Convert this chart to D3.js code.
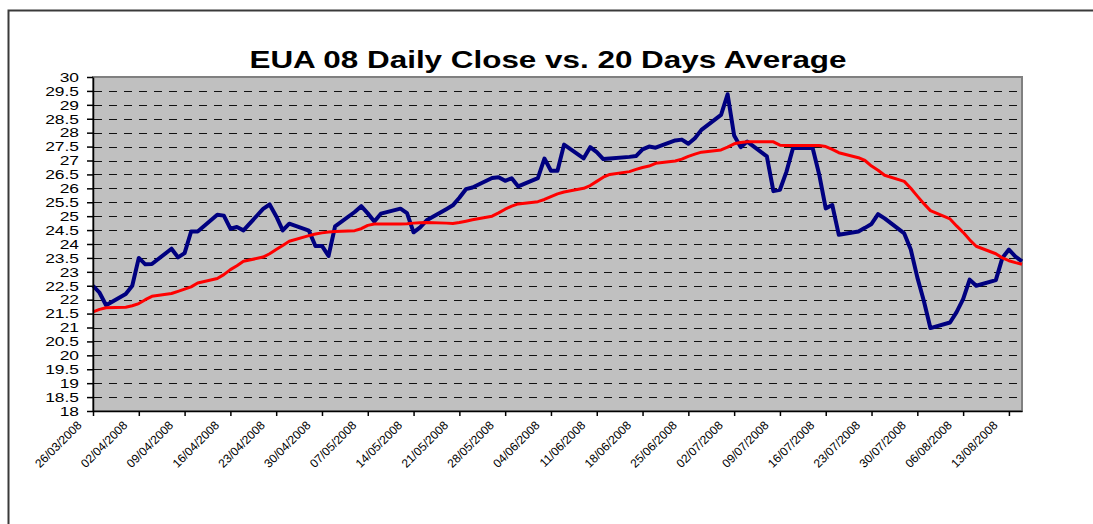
<!DOCTYPE html>
<html>
<head>
<meta charset="utf-8">
<title>EUA 08 Daily Close vs. 20 Days Average</title>
<script src="https://cdn.jsdelivr.net/npm/d3@7"></script>
<style>
  body { margin: 0; background: #fff; overflow: hidden; }
  svg { display: block; font-family: "Liberation Sans", Arial, sans-serif; }
</style>
</head>
<body>
<svg id="eua-chart"></svg>
<script>
console.log("EUA 08 DAILY CLOSE CHART");

/*
		 GLOBAL LAYOUT CONSTANTS
*/
var width = 1093;
var height = 524;
var margin = {top: 77, right: 71, bottom: 113, left: 93};

var w = width - margin.left - margin.right;
var h = height - margin.top - margin.bottom;


/*
		 DATA
		 One row per trading week (Mon..Fri)
*/
var tradeDates = [
  "26/03/2008","27/03/2008","28/03/2008",
  "31/03/2008","01/04/2008","02/04/2008","03/04/2008","04/04/2008",
  "07/04/2008","08/04/2008","09/04/2008","10/04/2008","11/04/2008",
  "14/04/2008","15/04/2008","16/04/2008","17/04/2008","18/04/2008",
  "21/04/2008","22/04/2008","23/04/2008","24/04/2008","25/04/2008",
  "28/04/2008","29/04/2008","30/04/2008","01/05/2008","02/05/2008",
  "05/05/2008","06/05/2008","07/05/2008","08/05/2008","09/05/2008",
  "12/05/2008","13/05/2008","14/05/2008","15/05/2008","16/05/2008",
  "19/05/2008","20/05/2008","21/05/2008","22/05/2008","23/05/2008",
  "26/05/2008","27/05/2008","28/05/2008","29/05/2008","30/05/2008",
  "02/06/2008","03/06/2008","04/06/2008","05/06/2008","06/06/2008",
  "09/06/2008","10/06/2008","11/06/2008","12/06/2008","13/06/2008",
  "16/06/2008","17/06/2008","18/06/2008","19/06/2008","20/06/2008",
  "23/06/2008","24/06/2008","25/06/2008","26/06/2008","27/06/2008",
  "30/06/2008","01/07/2008","02/07/2008","03/07/2008","04/07/2008",
  "07/07/2008","08/07/2008","09/07/2008","10/07/2008","11/07/2008",
  "14/07/2008","15/07/2008","16/07/2008","17/07/2008","18/07/2008",
  "21/07/2008","22/07/2008","23/07/2008","24/07/2008","25/07/2008",
  "28/07/2008","29/07/2008","30/07/2008","31/07/2008","01/08/2008",
  "04/08/2008","05/08/2008","06/08/2008","07/08/2008","08/08/2008",
  "11/08/2008","12/08/2008","13/08/2008","14/08/2008","15/08/2008"
];

var dailyClose = [
  22.50, 22.25, 21.80,
  22.20, 22.50, 23.50, 23.27, 23.28,
  23.83, 23.52, 23.67, 24.45, 24.45,
  25.05, 25.02, 24.55, 24.61, 24.49,
  25.26, 25.42, 25.00, 24.49, 24.73,
  24.48, 23.93, 23.93, 23.57, 24.63,
  25.15, 25.36, 25.10, 24.81, 25.09,
  25.27, 25.11, 24.42, 24.60, 24.85,
  25.25, 25.39, 25.66, 25.97, 26.03,
  26.37, 26.40, 26.27, 26.36, 26.07,
  26.37, 27.07, 26.63, 26.63, 27.57,
  27.08, 27.48, 27.30, 27.05, 27.07,
  27.13, 27.16, 27.40, 27.50, 27.46,
  27.72, 27.75, 27.60, 27.80, 28.10,
  28.64, 29.38, 27.90, 27.48, 27.68,
  27.15, 25.90, 25.95, 26.60, 27.45,
  27.45, 26.50, 25.28, 25.40, 24.33,
  24.45, 24.58, 24.72, 25.07, 24.92,
  24.38, 23.80, 22.80, 21.95, 20.98,
  21.18, 21.55, 22.02, 22.72, 22.50,
  22.70, 23.50, 23.80, 23.55, 23.38
];

var avg20Days = [
  21.56, 21.65, 21.71,
  21.73, 21.78, 21.86, 22.00, 22.12,
  22.22, 22.30, 22.38, 22.46, 22.60,
  22.76, 22.90, 23.08, 23.22, 23.38,
  23.53, 23.65, 23.80, 23.95, 24.10,
  24.30, 24.36, 24.40, 24.43, 24.45,
  24.48, 24.55, 24.67, 24.72, 24.72,
  24.72, 24.73, 24.75, 24.76, 24.77,
  24.75, 24.74, 24.77, 24.82, 24.87,
  25.00, 25.12, 25.25, 25.36, 25.44,
  25.52, 25.60, 25.70, 25.80, 25.87,
  26.00, 26.10, 26.25, 26.40, 26.50,
  26.60, 26.68, 26.75, 26.80, 26.90,
  26.98, 27.05, 27.15, 27.23, 27.30,
  27.38, 27.48, 27.60, 27.65, 27.67,
  27.67, 27.67, 27.55, 27.54, 27.54,
  27.54, 27.54, 27.50, 27.40, 27.28,
  27.10, 27.00, 26.80, 26.65, 26.47,
  26.25, 26.00, 25.72, 25.45, 25.20,
  24.90, 24.65, 24.42, 24.15, 23.92,
  23.65, 23.50, 23.40, 23.33, 23.27
];

var yTicks = [18, 18.5, 19, 19.5, 20, 20.5, 21, 21.5, 22, 22.5, 23, 23.5,
              24, 24.5, 25, 25.5, 26, 26.5, 27, 27.5, 28, 28.5, 29, 29.5, 30];

var xTickLabels = [
  "26/03/2008","02/04/2008","09/04/2008","16/04/2008","23/04/2008",
  "30/04/2008","07/05/2008","14/05/2008","21/05/2008","28/05/2008",
  "04/06/2008","11/06/2008","18/06/2008","25/06/2008","02/07/2008",
  "09/07/2008","16/07/2008","23/07/2008","30/07/2008","06/08/2008",
  "13/08/2008"
];

var chartTitle = "EUA 08 Daily Close vs. 20 Days Average";

var parseDate = d3.timeParse("%d/%m/%Y");
var formatDate = d3.timeFormat("%d/%m/%Y");

var dataset = tradeDates.map(function(s, i) {
  return {date: parseDate(s), close: dailyClose[i], avg: avg20Days[i]};
});
console.log('# Records: ', dataset.length);


/*
		 SCALES
*/
var xScale = d3.scaleTime()
  .domain(d3.extent(dataset, function(d) { return d.date; }))
  .range([0, w]);

var yScale = d3.scaleLinear()
  .domain([d3.min(yTicks), d3.max(yTicks)])
  .range([h, 0]);

var crisp = function(v) { return Math.round(v) + 0.5; };


/*
		 DRAW
*/
var svg = d3.select("#eua-chart")
  .attr("width", width)
  .attr("height", height);

// outer chart frame (runs off the right and bottom of the picture)
svg.append("rect")
  .attr("x", 8.5)
  .attr("y", 10.5)
  .attr("width", 1200)
  .attr("height", 700)
  .style("fill", "none")
  .style("stroke", "#3a3a3a")
  .style("stroke-width", 2);

svg.append("text")
  .attr("x", 548)
  .attr("y", 68)
  .attr("text-anchor", "middle")
  .attr("textLength", 597)
  .attr("lengthAdjust", "spacingAndGlyphs")
  .style("font-size", "24px")
  .style("font-weight", "bold")
  .style("fill", "#000")
  .text(chartTitle);

var chart = svg.append("g")
  .attr("transform", "translate(" + margin.left + "," + margin.top + ")");

// grey plot area
chart.append("rect")
  .attr("x", 0)
  .attr("y", 0)
  .attr("width", w)
  .attr("height", h)
  .style("fill", "#c0c0c0")
  .style("stroke", "#808080")
  .style("stroke-width", 2);

// dashed gridlines
chart.append("g")
  .attr("class", "grid")
  .selectAll("line")
  .data(yTicks.filter(function(v) { return v > yScale.domain()[0] && v < yScale.domain()[1]; }))
  .enter().append("line")
  .attr("x1", 1)
  .attr("x2", w)
  .attr("y1", function(v) { return crisp(yScale(v)); })
  .attr("y2", function(v) { return crisp(yScale(v)); })
  .style("stroke", "#111")
  .style("stroke-width", 1)
  .style("stroke-dasharray", "8,7");

var closeLine = d3.line()
  .x(function(d) { return xScale(d.date); })
  .y(function(d) { return yScale(d.close); });

var avgLine = d3.line()
  .x(function(d) { return xScale(d.date); })
  .y(function(d) { return yScale(d.avg); });

chart.append("path")
  .datum(dataset)
  .attr("class", "close-line")
  .attr("d", closeLine)
  .style("fill", "none")
  .style("stroke", "#000080")
  .style("stroke-width", 4)
  .style("stroke-linejoin", "round");

chart.append("path")
  .datum(dataset)
  .attr("class", "avg-line")
  .attr("d", avgLine)
  .style("fill", "none")
  .style("stroke", "#ff0000")
  .style("stroke-width", 3)
  .style("stroke-linejoin", "round");

// y axis
var yAxis = chart.append("g")
  .attr("class", "y-axis")
  .call(d3.axisLeft(yScale)
    .tickValues(yTicks)
    .tickSize(6)
    .tickSizeOuter(0)
    .tickFormat(function(d) { return d; }));

yAxis.selectAll("text")
  .attr("x", 0)
  .attr("dy", "0.36em")
  .attr("transform", "translate(-14,0) scale(1.45,1)")
  .style("font-size", "12px")
  .style("fill", "#000");

// x axis
var xAxis = chart.append("g")
  .attr("class", "x-axis")
  .attr("transform", "translate(0," + h + ")")
  .call(d3.axisBottom(xScale)
    .tickValues(xTickLabels.map(parseDate))
    .tickSize(5)
    .tickSizeOuter(0)
    .tickFormat(formatDate));

xAxis.selectAll("text")
  .attr("x", 0)
  .attr("y", 0)
  .attr("dy", 0)
  .attr("text-anchor", "end")
  .attr("transform", "translate(-11,15) rotate(-45)")
  .style("font-size", "12px")
  .style("fill", "#000");

svg.selectAll(".domain, .tick line")
  .style("stroke", "#000")
  .style("stroke-width", 1.5);

console.log('End of JS File');
</script>
</body>
</html>
